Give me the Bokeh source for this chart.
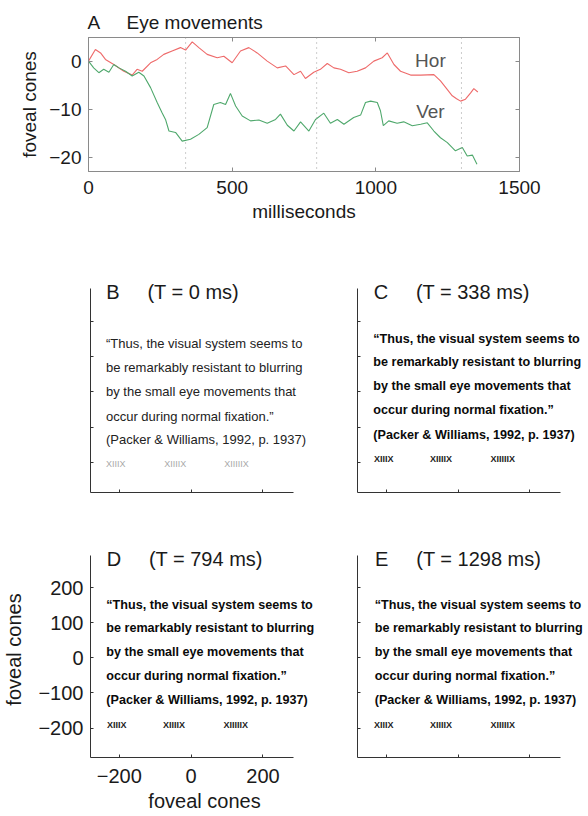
from bokeh.plotting import figure
from bokeh.models import Range1d, LinearAxis, FixedTicker, Label, Span
from bokeh.layouts import column, row
from bokeh.embed import file_html
from bokeh.resources import INLINE

# ---------------- data ----------------
hor_t = [0, 24, 42, 59, 88, 123, 152, 169, 187, 216, 239, 262, 291, 320, 338, 361, 384,
         413, 448, 471, 500, 529, 558, 587, 622, 657, 686, 715, 738, 755, 784, 807, 831,
         854, 877, 906, 935, 964, 993, 1022, 1040, 1063, 1086, 1121, 1156, 1202, 1225,
         1249, 1266, 1281, 1295, 1312, 1330, 1341, 1355]
hor_v = [0, 2.4, 1.7, 0.35, -0.7, -2.1, -2.9, -1.7, -2.1, -0.35, 0.35, 1.4, 2.1, 2.8, 2.3,
         4.0, 2.8, 1.4, 0.7, 1.0, -0.35, 2.1, 2.8, 1.7, 0, -1.4, -1.0, -2.8, -2.1, -3.6,
         -2.3, -1.7, -0.5, -1.4, -1.7, -2.4, -2.1, -1.4, 0, 0.7, 1.7, -0.7, -2.1, -2.9,
         -2.9, -2.8, -4.1, -5.9, -7.2, -7.8, -8.3, -7.9, -6.6, -5.7, -6.4]

ver_t = [0, 18, 36, 53, 71, 88, 106, 129, 152, 175, 193, 216, 239, 256, 268, 280, 303,
         326, 355, 384, 413, 436, 459, 477, 494, 512, 535, 564, 593, 622, 651, 668, 692,
         715, 738, 767, 790, 819, 842, 866, 889, 923, 947, 964, 982, 1005, 1016, 1026,
         1045, 1074, 1097, 1127, 1156, 1179, 1202, 1225, 1249, 1277, 1301, 1318, 1336, 1352]
ver_v = [0, -1.4, -2.4, -1.7, -2.3, -0.7, -1.4, -2.1, -3.1, -2.3, -3.1, -5.5, -8.6, -10.7,
         -12.1, -14.5, -14.8, -16.6, -16.2, -15.2, -13.8, -9.0, -8.6, -9.0, -6.7, -9.3,
         -11.4, -12.4, -12.2, -12.9, -12.1, -11.0, -13.3, -14.5, -12.6, -14.5, -12.1,
         -10.8, -12.9, -12.1, -13.1, -11.7, -11.2, -8.6, -8.3, -8.6, -10.3, -13.4, -12.4,
         -12.9, -12.6, -13.4, -13.1, -12.8, -14.5, -15.9, -16.9, -18.6, -17.9, -19.7,
         -19.5, -21.4]

event_times = [338, 794, 1298]
a_xticks = [0, 500, 1000, 1500]
a_yticks = [-20, -10, 0]

panel_letters = ["B", "C", "D", "E"]
panel_times = [0, 338, 794, 1298]
quote_lines = ["\u201cThus, the visual system seems to",
               "be remarkably resistant to blurring",
               "by the small eye movements that",
               "occur during normal fixation.\u201d",
               "(Packer & Williams, 1992, p. 1937)"]
stimuli = ["XIIIX", "XIIIIX", "XIIIIIX"]
cone_ticks = [-200, -100, 0, 100, 200]
cone_xticks = [-200, 0, 200]
cone_xbounds = (-280, 285)
cone_ybounds = (-284, 292)

FONT = "Liberation Sans"

# ---------------- panel A ----------------
pA = figure(width=588, height=232, x_range=Range1d(0, 1500), y_range=Range1d(-22.9, 4.9),
            output_backend="svg", toolbar_location=None,
            min_border_left=88, min_border_right=69, min_border_top=37, min_border_bottom=61)
pA.grid.visible = False
pA.outline_line_color = "#8a8a8a"
pA.line(hor_t, hor_v, line_color="#ee6a6a", line_width=1.1)
pA.line(ver_t, ver_v, line_color="#4fa86c", line_width=1.1)
for t in event_times:
    pA.add_layout(Span(location=t, dimension="height", line_color="#9a9a9a",
                       line_dash="1 4", line_width=1))

pA.below[0].ticker = FixedTicker(ticks=a_xticks)
pA.left[0].ticker = FixedTicker(ticks=a_yticks)
pA.add_layout(LinearAxis(ticker=FixedTicker(ticks=a_yticks)), "right")
pA.add_layout(LinearAxis(ticker=FixedTicker(ticks=a_xticks)), "above")
for ax in pA.axis:
    ax.axis_line_color = "#8a8a8a"
    ax.major_tick_line_color = "#8a8a8a"
    ax.major_tick_in = 4
    ax.major_tick_out = 0
    ax.minor_tick_line_color = None
    ax.major_label_text_font = FONT
    ax.major_label_text_font_size = "19px"
    ax.major_label_text_color = "#1a1a1a"
    ax.axis_label_text_font = FONT
    ax.axis_label_text_font_size = "19px"
    ax.axis_label_text_font_style = "normal"
    ax.axis_label_text_color = "#1a1a1a"
for ax in pA.right + pA.above:
    ax.major_label_text_color = None
    ax.major_label_text_font_size = "0px"
    ax.major_label_standoff = 0
pA.below[0].axis_label = "milliseconds"
pA.below[0].major_label_standoff = 9
pA.below[0].axis_label_standoff = 4
pA.left[0].axis_label = "foveal cones"
pA.left[0].major_label_standoff = 7
pA.left[0].axis_label_standoff = 6

pA.title.text = "A\u00a0\u00a0\u00a0\u00a0\u00a0Eye movements"
pA.title.text_font = FONT
pA.title.text_font_size = "19px"
pA.title.text_font_style = "normal"
pA.title.text_color = "#1a1a1a"
pA.title.align = "left"
pA.title.offset = -1
pA.title.standoff = 10

pA.add_layout(Label(x=1190, y=0.1, text="Hor", text_font=FONT, text_font_size="19px",
                    text_color="#555555", text_baseline="middle", text_align="center"))
pA.add_layout(Label(x=1190, y=-10.4, text="Ver", text_font=FONT, text_font_size="19px",
                    text_color="#555555", text_baseline="middle", text_align="center"))

# ---------------- panels B-E ----------------
FRAME_W = 228
FRAME_H = 218
PX_X = 203 / (cone_xbounds[1] - cone_xbounds[0])
PX_Y = 204 / (cone_ybounds[1] - cone_ybounds[0])


def panel(i, bl, br, bt, bb, show_labels):
    x_end = cone_xbounds[0] + FRAME_W / PX_X
    y_end = cone_ybounds[0] + FRAME_H / PX_Y
    p = figure(width=bl + FRAME_W + br, height=bt + FRAME_H + bb,
               x_range=Range1d(cone_xbounds[0], x_end),
               y_range=Range1d(cone_ybounds[0], y_end),
               output_backend="svg", toolbar_location=None,
               min_border_left=bl, min_border_right=br, min_border_top=bt,
               min_border_bottom=bb)
    p.grid.visible = False
    p.outline_line_color = None
    p.xaxis.ticker = FixedTicker(ticks=cone_xticks)
    p.yaxis.ticker = FixedTicker(ticks=cone_ticks)
    p.xaxis.bounds = cone_xbounds
    p.yaxis.bounds = cone_ybounds
    for ax in p.axis:
        ax.axis_line_color = "#333333"
        ax.major_tick_line_color = "#333333"
        ax.major_tick_in = 3
        ax.major_tick_out = 0
        ax.minor_tick_line_color = None
        ax.major_label_text_font = FONT
        ax.axis_label_text_font = FONT
        ax.axis_label_text_font_style = "normal"
        ax.axis_label_text_color = "#1a1a1a"
        if show_labels:
            ax.major_label_text_font_size = "20px"
            ax.axis_label_text_font_size = "20px"
            ax.major_label_text_color = "#1a1a1a"
        else:
            ax.major_label_text_font_size = "0px"
            ax.major_label_text_color = None
            ax.major_label_standoff = 0
    if show_labels:
        p.xaxis.axis_label = "foveal cones"
        p.yaxis.axis_label = "foveal cones"
        p.xaxis.major_label_standoff = 11
        p.xaxis.axis_label_standoff = 4
        p.yaxis.major_label_standoff = 7
        p.yaxis.axis_label_standoff = 10

    blurred = i > 0
    if i == 0:
        ys = [138, 68, 0, -68, -135]
        ys_stim = -203
        xs_stim = [-237, -75, 92]
        x0 = -237
    else:
        ys = [150, 84, 17, -51, -121]
        ys_stim = -190
        xs_stim = [-234, -78, 90]
        x0 = -236 if i < 3 else -232
    p.add_layout(Label(x=x0 + 1, y=281,
                       text=f"{panel_letters[i]}\u00a0\u00a0\u00a0\u00a0\u00a0(T = {panel_times[i]} ms)",
                       text_font=FONT, text_font_size="20px", text_color="#1a1a1a",
                       text_baseline="middle", text_align="left"))
    for line, y in zip(quote_lines, ys):
        p.add_layout(Label(x=x0, y=y, text=line, text_font=FONT,
                           text_font_size="12.6px" if blurred else "13px",
                           text_font_style="bold" if blurred else "normal",
                           text_color="#0a0a0a" if blurred else "#222222",
                           text_baseline="middle", text_align="left"))
    for s, x in zip(stimuli, xs_stim):
        p.add_layout(Label(x=x, y=ys_stim, text=s, text_font=FONT, text_font_size="9px",
                           text_font_style="bold" if blurred else "normal",
                           text_color="#222222" if blurred else "#a8a8a8",
                           text_baseline="middle", text_align="left"))
    return p


pB = panel(0, 90, 5, 42, 12, False)
pC = panel(1, 34, 3, 42, 12, False)
pD = panel(2, 90, 5, 37, 55, True)
pE = panel(3, 34, 3, 37, 55, False)

layout = column(pA, row(pB, pC), row(pD, pE))
open("out.html", "w").write(file_html(layout, INLINE))
